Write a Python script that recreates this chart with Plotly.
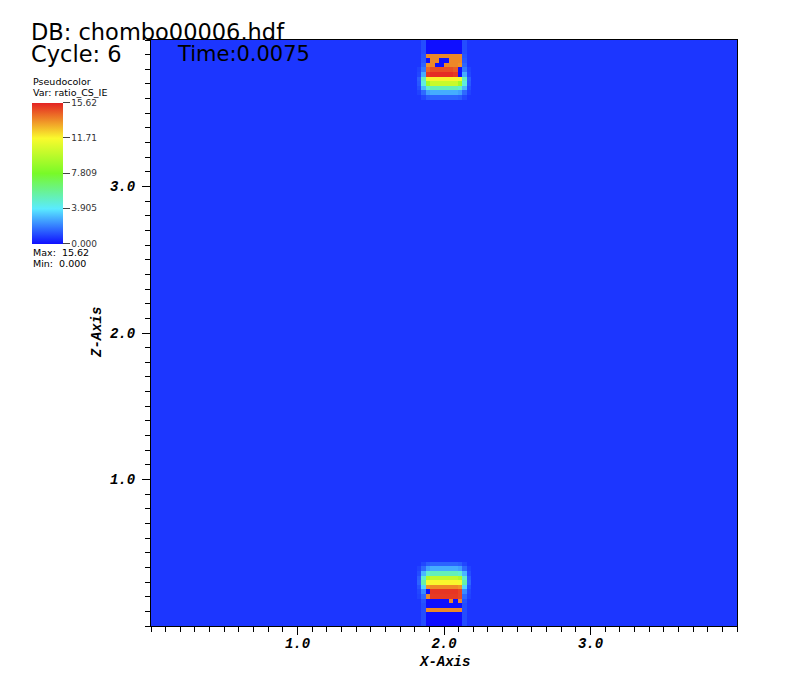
import numpy as np
import plotly.graph_objects as go

# ---------------- data ----------------
N_CELLS = 128                 # cells per side of the mesh
DOMAIN = [0.0, 4.0]           # X and Z extent
ZMIN, ZMAX = 0.0, 15.62       # colour range (Min / Max)
BACKGROUND = 0.7              # value of the bulk of the domain
PATCH_FIRST_COL = 58          # mesh column where the 12-wide patches start

# top patch: rows listed from the top edge downward
TOP_PATCH = [
    [0.7, 1.1, 0.0, 0.0, 0.0, 0.0, 0.0, 0.0, 0.0, 0.0, 1.1, 0.7],
    [0.7, 1.1, 0.0, 0.0, 0.0, 0.0, 0.0, 0.0, 0.0, 0.0, 1.1, 0.7],
    [0.7, 1.1, 0.0, 0.0, 0.0, 0.0, 0.0, 0.0, 0.0, 0.0, 1.1, 0.7],
    [0.7, 1.2, 13.8, 13.8, 13.8, 13.8, 13.8, 13.8, 13.8, 13.8, 1.2, 0.7],
    [0.7, 1.3, 0.0, 13.8, 13.8, 0.0, 0.0, 13.8, 13.8, 13.8, 1.3, 0.7],
    [0.7, 1.5, 13.6, 13.8, 0.0, 0.0, 13.8, 13.8, 13.8, 13.6, 1.5, 0.7],
    [0.9, 1.9, 14.4, 14.8, 14.8, 14.8, 14.8, 14.8, 14.6, 0.0, 1.9, 0.9],
    [1.0, 2.8, 15.2, 15.4, 15.4, 15.4, 15.4, 15.4, 15.2, 0.0, 2.8, 1.0],
    [1.4, 5.0, 11.5, 11.8, 11.8, 11.8, 11.8, 11.8, 11.8, 11.5, 5.0, 1.4],
    [1.3, 4.5, 9.0, 10.2, 10.2, 10.2, 10.2, 10.2, 10.2, 9.0, 4.5, 1.3],
    [1.1, 3.0, 4.8, 5.2, 5.2, 5.2, 5.2, 5.2, 5.2, 4.8, 3.0, 1.1],
    [0.9, 1.6, 2.6, 2.8, 2.8, 2.8, 2.8, 2.8, 2.8, 2.6, 1.6, 0.9],
    [0.7, 1.0, 1.4, 1.5, 1.5, 1.5, 1.5, 1.5, 1.5, 1.4, 1.0, 0.7],
]

# bottom patch: rows listed from the bottom edge upward
BOTTOM_PATCH = [
    [0.7, 1.1, 0.0, 0.0, 0.0, 0.0, 0.0, 0.0, 0.0, 0.0, 1.1, 0.7],
    [0.7, 1.1, 0.0, 0.0, 0.0, 0.0, 0.0, 0.0, 0.0, 0.0, 1.1, 0.7],
    [0.7, 1.1, 0.0, 0.0, 0.0, 0.0, 0.0, 0.0, 0.0, 0.0, 1.1, 0.7],
    [0.7, 1.1, 13.8, 13.8, 13.8, 13.8, 13.8, 13.8, 13.8, 13.8, 1.1, 0.7],
    [0.7, 1.1, 0.0, 0.0, 0.0, 0.0, 0.0, 0.0, 0.0, 0.0, 1.1, 0.7],
    [0.7, 1.2, 0.0, 0.0, 0.0, 0.0, 0.0, 13.8, 0.0, 13.8, 1.2, 0.7],
    [0.9, 1.6, 13.8, 15.2, 15.2, 15.2, 15.2, 15.2, 15.2, 15.0, 1.6, 0.9],
    [1.0, 2.2, 0.0, 15.3, 15.3, 15.3, 15.3, 15.3, 15.3, 15.0, 2.2, 1.0],
    [1.2, 3.5, 13.6, 13.8, 13.8, 13.8, 13.8, 13.8, 13.8, 13.6, 3.5, 1.2],
    [1.5, 5.5, 11.5, 11.8, 11.8, 11.8, 11.8, 11.8, 11.8, 11.5, 5.5, 1.5],
    [1.4, 4.8, 9.5, 10.0, 10.0, 10.0, 10.0, 10.0, 10.0, 9.5, 4.8, 1.4],
    [1.1, 3.0, 4.8, 5.2, 5.2, 5.2, 5.2, 5.2, 5.2, 4.8, 3.0, 1.1],
    [0.9, 1.6, 2.6, 2.8, 2.8, 2.8, 2.8, 2.8, 2.8, 2.6, 1.6, 0.9],
    [0.7, 1.0, 1.4, 1.5, 1.5, 1.5, 1.5, 1.5, 1.5, 1.4, 1.0, 0.7],
]

AXIS_TICKS = [1.0, 2.0, 3.0]
AXIS_TICK_TEXT = ["1.0", "2.0", "3.0"]
CBAR_TICKS = [0.0, 3.905, 7.809, 11.71, 15.62]
CBAR_TICK_TEXT = ["0.000", "3.905", "7.809", "11.71", "15.62"]

# ---------------- build mesh ----------------
z = np.full((N_CELLS, N_CELLS), BACKGROUND)
for r, row in enumerate(TOP_PATCH):
    z[N_CELLS - 1 - r, PATCH_FIRST_COL:PATCH_FIRST_COL + len(row)] = row
for r, row in enumerate(BOTTOM_PATCH):
    z[r, PATCH_FIRST_COL:PATCH_FIRST_COL + len(row)] = row

d = (DOMAIN[1] - DOMAIN[0]) / N_CELLS

# page body has an 8px margin; work in window pixels and convert
OFF = 8
W, H = 797 - 2 * OFF, 682 - 2 * OFF
PX_L, PX_R, PX_T, PX_B = 151, 737, 40, 626


def fx(px):
    return (px - OFF) / W


def fy(py):
    return 1 - (py - OFF) / H


colorscale = [
    [0.0, "rgb(15,15,255)"],
    [0.25, "rgb(90,235,255)"],
    [0.5, "rgb(120,250,40)"],
    [0.75, "rgb(250,250,45)"],
    [1.0, "rgb(228,35,35)"],
]

fig = go.Figure(go.Heatmap(
    z=z, x0=DOMAIN[0] + d / 2, dx=d, y0=DOMAIN[0] + d / 2, dy=d,
    zmin=ZMIN, zmax=ZMAX, colorscale=colorscale, zsmooth=False,
    hoverinfo="skip",
    colorbar=dict(
        thickness=31, thicknessmode="pixels",
        len=141, lenmode="pixels",
        x=fx(32), xanchor="left", xref="container",
        y=fy(102.5), yanchor="top", yref="container",
        xpad=0, ypad=0, outlinewidth=0,
        tickmode="array", tickvals=CBAR_TICKS, ticktext=CBAR_TICK_TEXT,
        ticks="outside", ticklen=7, tickcolor="#444", tickwidth=1,
        tickfont=dict(family="DejaVu Sans", size=9, color="#333"),
    ),
))

tickfont = dict(family="Liberation Mono", size=14, color="black",
                weight="bold", style="italic")
axis_common = dict(
    range=DOMAIN, showgrid=False, zeroline=False,
    showline=True, linecolor="black", linewidth=1, mirror=True,
    tickmode="array", tickvals=AXIS_TICKS, ticktext=AXIS_TICK_TEXT,
    ticks="outside", ticklen=8, tickcolor="black", tickwidth=1,
    tickfont=tickfont,
    minor=dict(tickmode="linear", tick0=0, dtick=0.1, ticks="outside",
               ticklen=5, tickcolor="black", tickwidth=1, showgrid=False),
)

fig.update_layout(
    width=W, height=H, autosize=False,
    margin=dict(l=0, r=0, t=0, b=0, autoexpand=False),
    paper_bgcolor="white", plot_bgcolor="white",
    xaxis=dict(domain=[fx(PX_L), fx(PX_R)], ticklabelstandoff=-4, **axis_common),
    yaxis=dict(domain=[fy(PX_B), fy(PX_T)], ticklabelstandoff=4, **axis_common),
    showlegend=False,
)


def ann(text, x, y, size, family="DejaVu Sans", xanchor="left", yanchor="top",
        textangle=0, **fontkw):
    fig.add_annotation(text=text, x=fx(x), y=fy(y), xref="paper", yref="paper",
                       xanchor=xanchor, yanchor=yanchor, showarrow=False,
                       textangle=textangle,
                       font=dict(family=family, size=size, color="black", **fontkw))


ann("DB: chombo00006.hdf", 29, 17, 22.5)
ann("Cycle: 6", 29, 39, 22.5)
ann("Time:0.0075", 175, 40, 21)
ann("Pseudocolor", 31, 74, 9.5)
ann("Var: ratio_CS_IE", 31, 85, 9.5)
ann("Max:  15.62", 31, 245, 9.5)
ann("Min:  0.000", 31, 256, 9.5)
ann("X-Axis", (PX_L + PX_R) / 2, 662, 14, family="Liberation Mono",
    xanchor="center", yanchor="middle", weight="bold", style="italic")
ann("Z-Axis", 97, (PX_T + PX_B) / 2, 14, family="Liberation Mono",
    xanchor="center", yanchor="middle", textangle=-90, weight="bold", style="italic")

fig.write_html("out.html")
